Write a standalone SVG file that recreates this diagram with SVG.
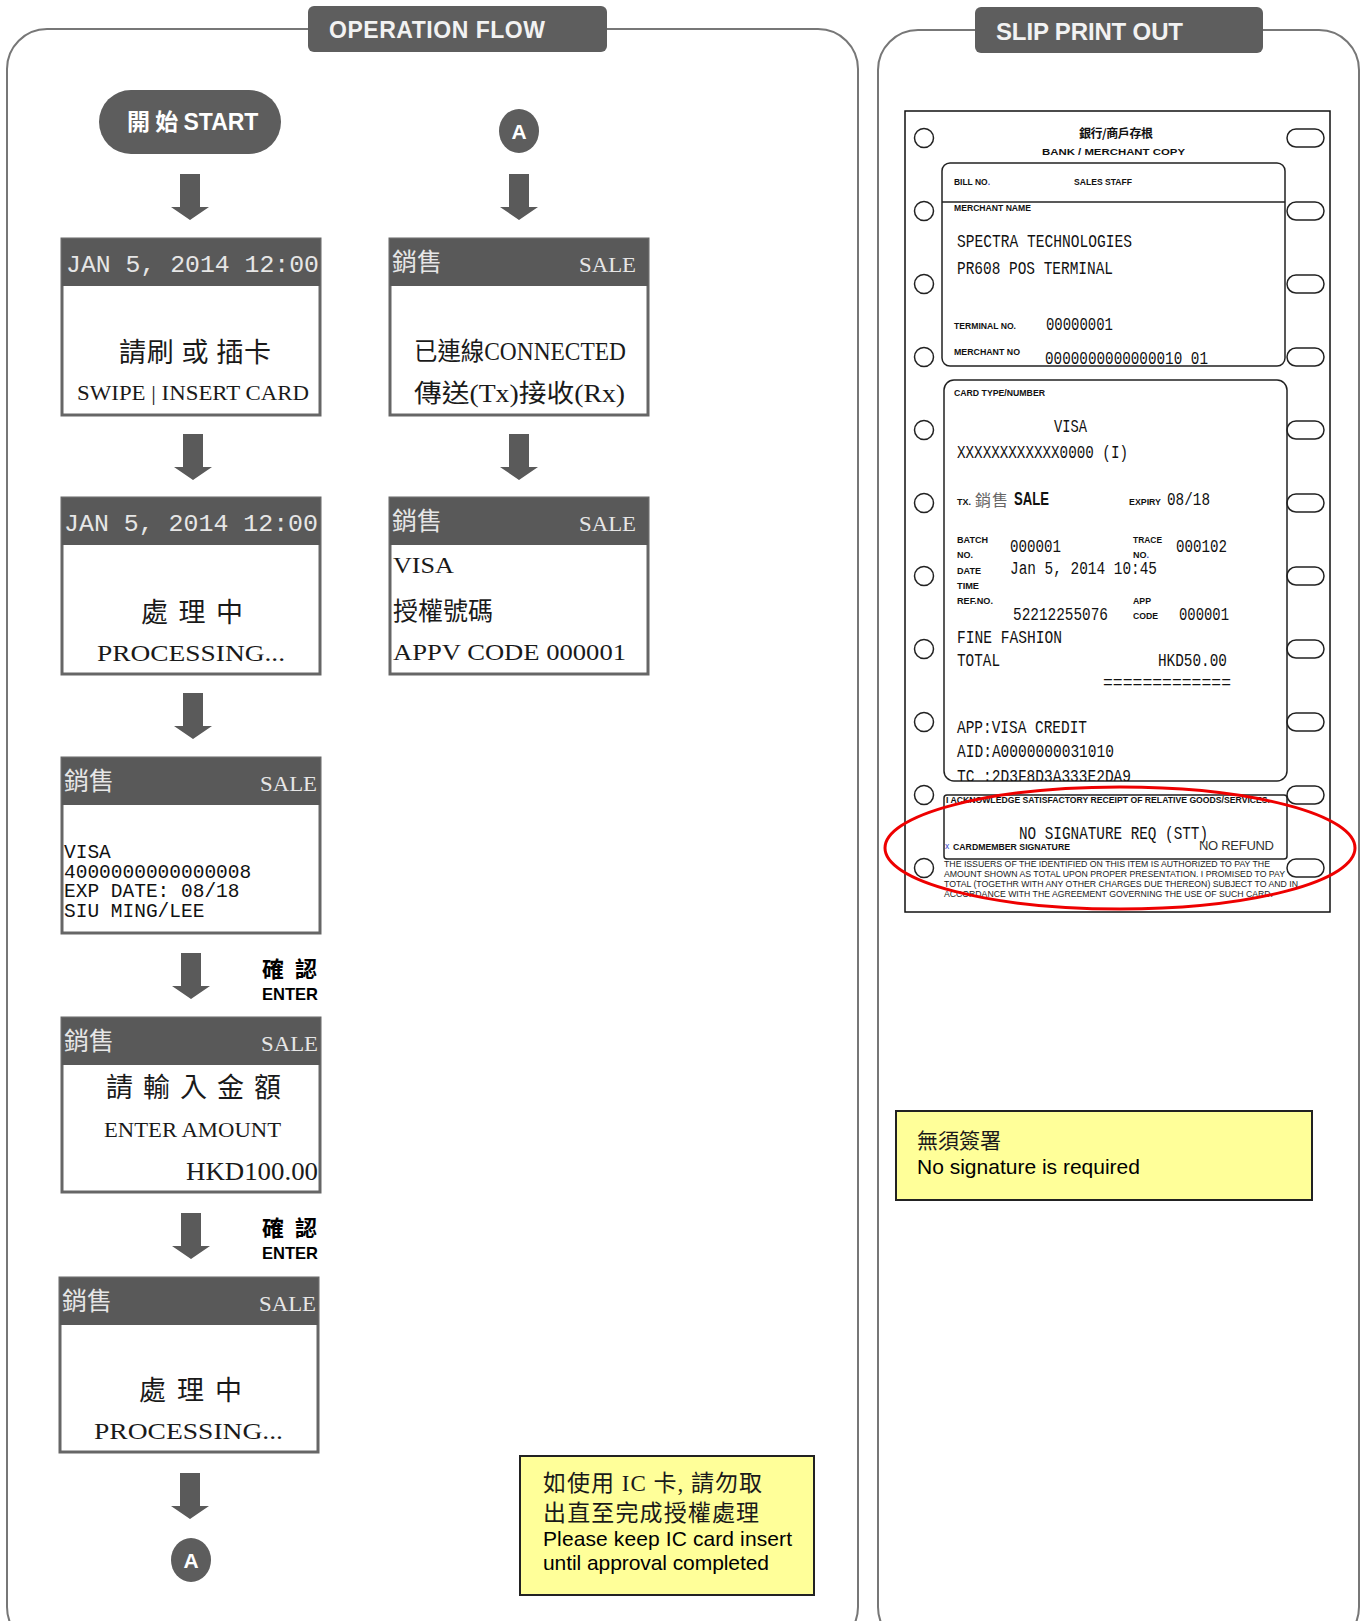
<svg xmlns="http://www.w3.org/2000/svg" xmlns:xlink="http://www.w3.org/1999/xlink" width="1365" height="1621" viewBox="0 0 1365 1621">
<style>
.panel{fill:none;stroke:#777;stroke-width:2}
.tab{fill:#5e5e5e}
.tabtxt{font-family:"Liberation Sans",Arial,sans-serif;font-weight:bold;fill:#f2f2f2}
.scr{fill:#fff;stroke:#666;stroke-width:3}
.hdr{fill:#595959}
.hdate{font-family:"Liberation Mono",monospace;font-size:24px;fill:#e6e6e6}
.hcjk{font-family:"Noto Sans CJK TC",sans-serif;font-size:25px;fill:#e6e6e6}
.hsale{font-family:"Liberation Serif",serif;font-size:22px;fill:#e6e6e6}
.body{font-family:"Liberation Serif","Noto Sans CJK TC",serif;fill:#1a1a1a}
.cjk{font-family:"Noto Sans CJK TC",sans-serif;fill:#1a1a1a}
.mono{font-family:"Liberation Mono",monospace;fill:#111}
.arrow{fill:#5a5a5a}
.enter{font-family:"Liberation Sans","Noto Sans CJK TC",sans-serif;font-weight:bold;fill:#000}
.note{fill:#ffff99;stroke:#222;stroke-width:2}
.sans{font-family:"Liberation Sans",Arial,sans-serif}
.lbl{font-family:"Liberation Sans",Arial,sans-serif;font-weight:bold;font-size:9px;fill:#111}
.slip{fill:#fff;stroke:#111;stroke-width:1.5}
.sbox{fill:none;stroke:#222;stroke-width:1.5}
.hole{fill:#fff;stroke:#222;stroke-width:1.5}
.st{font-family:"Liberation Mono",monospace;font-size:18px;fill:#111}
.disc{font-family:"Liberation Sans",Arial,sans-serif;font-size:9.5px;fill:#222}
</style>
<defs>
<path id="arr" d="M-10,0 H10 V33 H19 L0,46 L-19,33 H-10 Z"/>
<clipPath id="clipB"><rect x="944" y="380" width="343" height="401"/></clipPath>
</defs>

<rect id="bg" x="0" y="0" width="1365" height="1621" fill="#fff"/>

<g id="panel-operation-flow">
<rect class="panel" x="7" y="29" width="851" height="1618" rx="40"/>
<rect class="tab" x="308" y="6" width="299" height="46" rx="6"/>
<text class="tabtxt" x="329" y="38" font-size="23" textLength="216">OPERATION FLOW</text>
</g>

<g id="panel-slip">
<rect class="panel" x="878" y="30" width="481" height="1617" rx="40"/>
<rect class="tab" x="975" y="7" width="288" height="46" rx="6"/>
<text class="tabtxt" x="996" y="40" font-size="24" textLength="187">SLIP PRINT OUT</text>
</g>

<g id="connectors">
<use xlink:href="#arr" href="#arr" class="arrow" x="190" y="174"/>
<use xlink:href="#arr" href="#arr" class="arrow" x="193" y="434"/>
<use xlink:href="#arr" href="#arr" class="arrow" x="193" y="693"/>
<use xlink:href="#arr" href="#arr" class="arrow" x="191" y="953"/>
<use xlink:href="#arr" href="#arr" class="arrow" x="191" y="1213"/>
<use xlink:href="#arr" href="#arr" class="arrow" x="190" y="1473"/>
<use xlink:href="#arr" href="#arr" class="arrow" x="519" y="174"/>
<use xlink:href="#arr" href="#arr" class="arrow" x="519" y="434"/>
</g>

<g id="start">
<rect x="99" y="90" width="182" height="64" rx="32" fill="#5d5d5d"/>
<text x="127" y="130" font-size="23" fill="#fff" font-weight="bold" font-family="Liberation Sans,Noto Sans CJK TC,sans-serif"><tspan font-family="Noto Sans CJK TC,sans-serif">開 始 </tspan><tspan>START</tspan></text>
</g>

<g id="connector-a-top">
<ellipse cx="519" cy="131" rx="20" ry="22" fill="#5d5d5d"/>
<text x="519" y="139" font-size="21" fill="#fff" font-weight="bold" text-anchor="middle" font-family="Liberation Sans,sans-serif">A</text>
</g>

<g id="connector-a-bottom">
<ellipse cx="191" cy="1560" rx="20" ry="22" fill="#5d5d5d"/>
<text x="191" y="1568" font-size="21" fill="#fff" font-weight="bold" text-anchor="middle" font-family="Liberation Sans,sans-serif">A</text>
</g>

<g id="screen-swipe">
<rect class="scr" x="62" y="239" width="258" height="176"/>
<rect class="hdr" x="62" y="239" width="258" height="47"/>
<text class="hdate" x="66" y="272" textLength="253" lengthAdjust="spacingAndGlyphs">JAN 5, 2014 12:00</text>
<text class="cjk" x="195" y="362" font-size="27" text-anchor="middle" textLength="152">請刷 或 插卡</text>
<text class="body" x="77" y="400" font-size="21" textLength="232" lengthAdjust="spacingAndGlyphs">SWIPE | INSERT CARD</text>
</g>

<g id="screen-processing-1">
<rect class="scr" x="62" y="498" width="258" height="176"/>
<rect class="hdr" x="62" y="498" width="258" height="47"/>
<text class="hdate" x="64" y="531" textLength="254" lengthAdjust="spacingAndGlyphs">JAN 5, 2014 12:00</text>
<text class="cjk" x="141" y="622" font-size="27" textLength="102">處 理 中</text>
<text class="body" x="97" y="661" font-size="23" textLength="188" lengthAdjust="spacingAndGlyphs">PROCESSING...</text>
</g>

<g id="screen-card-info">
<rect class="scr" x="62" y="758" width="258" height="175"/>
<rect class="hdr" x="62" y="758" width="258" height="47"/>
<text class="hcjk" x="64" y="790">銷售</text>
<text class="hsale" x="317" y="791" text-anchor="end" textLength="57" lengthAdjust="spacingAndGlyphs">SALE</text>
<text class="mono" x="64" y="858" font-size="19.5">VISA</text>
<text class="mono" x="64" y="878" font-size="19.5">4000000000000008</text>
<text class="mono" x="64" y="897" font-size="19.5">EXP DATE: 08/18</text>
<text class="mono" x="64" y="917" font-size="19.5">SIU MING/LEE</text>
</g>

<g id="enter-label-1">
<text class="enter" x="262" y="977" font-size="22" textLength="55"><tspan font-family="Noto Sans CJK TC,sans-serif">確 認</tspan></text>
<text class="enter" x="262" y="1000" font-size="17" textLength="56" lengthAdjust="spacingAndGlyphs">ENTER</text>
</g>

<g id="screen-amount">
<rect class="scr" x="62" y="1018" width="258" height="174"/>
<rect class="hdr" x="62" y="1018" width="258" height="47"/>
<text class="hcjk" x="64" y="1050">銷售</text>
<text class="hsale" x="318" y="1051" text-anchor="end" textLength="57" lengthAdjust="spacingAndGlyphs">SALE</text>
<text class="cjk" x="106" y="1097" font-size="27" textLength="175">請 輸 入 金 額</text>
<text class="body" x="104" y="1137" font-size="22" textLength="177" lengthAdjust="spacingAndGlyphs">ENTER AMOUNT</text>
<text class="body" x="186" y="1180" font-size="25" textLength="132" lengthAdjust="spacingAndGlyphs">HKD100.00</text>
</g>

<g id="enter-label-2">
<text class="enter" x="262" y="1236" font-size="22" textLength="55"><tspan font-family="Noto Sans CJK TC,sans-serif">確 認</tspan></text>
<text class="enter" x="262" y="1259" font-size="17" textLength="56" lengthAdjust="spacingAndGlyphs">ENTER</text>
</g>

<g id="screen-processing-2">
<rect class="scr" x="60" y="1278" width="258" height="174"/>
<rect class="hdr" x="60" y="1278" width="258" height="47"/>
<text class="hcjk" x="62" y="1310">銷售</text>
<text class="hsale" x="316" y="1311" text-anchor="end" textLength="57" lengthAdjust="spacingAndGlyphs">SALE</text>
<text class="cjk" x="139" y="1400" font-size="27" textLength="103">處 理 中</text>
<text class="body" x="94" y="1439" font-size="23" textLength="189" lengthAdjust="spacingAndGlyphs">PROCESSING...</text>
</g>

<g id="screen-connected">
<rect class="scr" x="390" y="239" width="258" height="176"/>
<rect class="hdr" x="390" y="239" width="258" height="47"/>
<text class="hcjk" x="392" y="271">銷售</text>
<text class="hsale" x="636" y="272" text-anchor="end" textLength="57" lengthAdjust="spacingAndGlyphs">SALE</text>
<text class="body" x="414" y="360" font-size="25" textLength="212" lengthAdjust="spacingAndGlyphs">已連線CONNECTED</text>
<text class="body" x="414" y="402" font-size="25" textLength="211" lengthAdjust="spacingAndGlyphs">傳送(Tx)接收(Rx)</text>
</g>

<g id="screen-approval">
<rect class="scr" x="390" y="498" width="258" height="176"/>
<rect class="hdr" x="390" y="498" width="258" height="47"/>
<text class="hcjk" x="392" y="530">銷售</text>
<text class="hsale" x="636" y="531" text-anchor="end" textLength="57" lengthAdjust="spacingAndGlyphs">SALE</text>
<text class="body" x="393" y="573" font-size="24" textLength="61" lengthAdjust="spacingAndGlyphs">VISA</text>
<text class="cjk" x="393" y="620" font-size="25" textLength="100">授權號碼</text>
<text class="body" x="393" y="660" font-size="24" textLength="233" lengthAdjust="spacingAndGlyphs">APPV CODE 000001</text>
</g>

<g id="note-ic-card">
<rect class="note" x="520" y="1456" width="294" height="139"/>
<text class="body" x="543" y="1491" font-size="23" textLength="219">如使用 IC 卡, 請勿取</text>
<text class="cjk" x="543" y="1521" font-size="23" textLength="216">出直至完成授權處理</text>
<text class="sans" x="543" y="1546" font-size="21" fill="#000" textLength="249">Please keep IC card insert</text>
<text class="sans" x="543" y="1570" font-size="21" fill="#000" textLength="226">until approval completed</text>
</g>

<g id="slip">
<rect class="slip" x="905" y="111" width="425" height="801"/>
<g id="holes-left">
<circle class="hole" cx="924" cy="138" r="9.5"/>
<circle class="hole" cx="924" cy="211" r="9.5"/>
<circle class="hole" cx="924" cy="284" r="9.5"/>
<circle class="hole" cx="924" cy="357" r="9.5"/>
<circle class="hole" cx="924" cy="430" r="9.5"/>
<circle class="hole" cx="924" cy="503" r="9.5"/>
<circle class="hole" cx="924" cy="576" r="9.5"/>
<circle class="hole" cx="924" cy="649" r="9.5"/>
<circle class="hole" cx="924" cy="722" r="9.5"/>
<circle class="hole" cx="924" cy="795" r="9.5"/>
<circle class="hole" cx="924" cy="868" r="9.5"/>
</g>
<g id="holes-right">
<rect class="hole" x="1287" y="129" width="37" height="18" rx="9"/>
<rect class="hole" x="1287" y="202" width="37" height="18" rx="9"/>
<rect class="hole" x="1287" y="275" width="37" height="18" rx="9"/>
<rect class="hole" x="1287" y="348" width="37" height="18" rx="9"/>
<rect class="hole" x="1287" y="421" width="37" height="18" rx="9"/>
<rect class="hole" x="1287" y="494" width="37" height="18" rx="9"/>
<rect class="hole" x="1287" y="567" width="37" height="18" rx="9"/>
<rect class="hole" x="1287" y="640" width="37" height="18" rx="9"/>
<rect class="hole" x="1287" y="713" width="37" height="18" rx="9"/>
<rect class="hole" x="1287" y="786" width="37" height="18" rx="9"/>
<rect class="hole" x="1287" y="859" width="37" height="18" rx="9"/>
</g>
<text x="1116" y="138" font-size="12" font-weight="bold" text-anchor="middle" fill="#111" font-family="Noto Sans CJK TC,sans-serif" textLength="74">銀行/商戶存根</text>
<text class="lbl" x="1042" y="155" font-size="11.5" textLength="143" lengthAdjust="spacingAndGlyphs">BANK / MERCHANT COPY</text>

<g id="slip-merchant">
<rect class="sbox" x="942" y="163" width="343" height="203" rx="8"/>
<line x1="942" y1="202" x2="1285" y2="202" stroke="#222" stroke-width="1.5"/>
<text class="lbl" x="954" y="185" textLength="36" lengthAdjust="spacingAndGlyphs">BILL NO<tspan fill="#3344cc">.</tspan></text>
<text class="lbl" x="1074" y="185" textLength="58" lengthAdjust="spacingAndGlyphs">SALES STAFF</text>
<text class="lbl" x="954" y="211" textLength="77" lengthAdjust="spacingAndGlyphs">MERCHANT NAME</text>
<text class="st" x="957" y="247" textLength="175" lengthAdjust="spacingAndGlyphs">SPECTRA TECHNOLOGIES</text>
<text class="st" x="957" y="274" textLength="156" lengthAdjust="spacingAndGlyphs">PR608 POS TERMINAL</text>
<text class="lbl" x="954" y="329" textLength="62" lengthAdjust="spacingAndGlyphs">TERMINAL NO.</text>
<text class="st" x="1046" y="330" textLength="67" lengthAdjust="spacingAndGlyphs">00000001</text>
<text class="lbl" x="954" y="355" textLength="66" lengthAdjust="spacingAndGlyphs">MERCHANT NO</text>
<text class="st" x="1045" y="364" textLength="163" lengthAdjust="spacingAndGlyphs">0000000000000010 01</text>
</g>

<g id="slip-card">
<rect class="sbox" x="944" y="380" width="343" height="401" rx="10"/>
<text class="lbl" x="954" y="396" textLength="91" lengthAdjust="spacingAndGlyphs">CARD TYPE/NUMBER</text>
<text class="st" x="1054" y="432" textLength="33" lengthAdjust="spacingAndGlyphs">VISA</text>
<text class="st" x="957" y="458" textLength="171" lengthAdjust="spacingAndGlyphs">XXXXXXXXXXXX0000 (I)</text>
<text class="lbl" x="957" y="505" textLength="14" lengthAdjust="spacingAndGlyphs">TX.</text>
<text x="975" y="506" font-size="16" fill="#666" font-family="Noto Sans CJK TC,sans-serif" textLength="33">銷售</text>
<text x="1014" y="505" font-size="18" font-weight="bold" fill="#111" font-family="Liberation Sans,sans-serif" textLength="35" lengthAdjust="spacingAndGlyphs">SALE</text>
<text class="lbl" x="1129" y="505" textLength="32" lengthAdjust="spacingAndGlyphs">EXPIRY</text>
<text class="st" x="1167" y="505" textLength="43" lengthAdjust="spacingAndGlyphs">08/18</text>
<text class="lbl" x="957" y="543" textLength="31" lengthAdjust="spacingAndGlyphs">BATCH</text>
<text class="lbl" x="957" y="558" textLength="16" lengthAdjust="spacingAndGlyphs">NO.</text>
<text class="st" x="1010" y="552" textLength="51" lengthAdjust="spacingAndGlyphs">000001</text>
<text class="lbl" x="1133" y="543" textLength="29" lengthAdjust="spacingAndGlyphs">TRACE</text>
<text class="lbl" x="1133" y="558" textLength="16" lengthAdjust="spacingAndGlyphs">NO<tspan fill="#3344cc">.</tspan></text>
<text class="st" x="1176" y="552" textLength="51" lengthAdjust="spacingAndGlyphs">000102</text>
<text class="lbl" x="957" y="574" textLength="24" lengthAdjust="spacingAndGlyphs">DATE</text>
<text class="lbl" x="957" y="589" textLength="22" lengthAdjust="spacingAndGlyphs">TIME</text>
<text class="st" x="1010" y="574" textLength="147" lengthAdjust="spacingAndGlyphs">Jan 5, 2014 10:45</text>
<text class="lbl" x="957" y="604" textLength="36" lengthAdjust="spacingAndGlyphs">REF.NO.</text>
<text class="lbl" x="1133" y="604" textLength="18" lengthAdjust="spacingAndGlyphs">APP</text>
<text class="lbl" x="1133" y="619" textLength="25" lengthAdjust="spacingAndGlyphs">CODE</text>
<text class="st" x="1013" y="620" textLength="95" lengthAdjust="spacingAndGlyphs">52212255076</text>
<text class="st" x="1179" y="620" textLength="50" lengthAdjust="spacingAndGlyphs">000001</text>
<text class="st" x="957" y="643" textLength="105" lengthAdjust="spacingAndGlyphs">FINE FASHION</text>
<text class="st" x="957" y="666" textLength="43" lengthAdjust="spacingAndGlyphs">TOTAL</text>
<text class="st" x="1158" y="666" textLength="69" lengthAdjust="spacingAndGlyphs">HKD50.00</text>
<text class="st" x="1103" y="688" textLength="128" lengthAdjust="spacingAndGlyphs">=============</text>
<text class="st" x="957" y="733" textLength="130" lengthAdjust="spacingAndGlyphs">APP:VISA CREDIT</text>
<text class="st" x="957" y="757" textLength="157" lengthAdjust="spacingAndGlyphs">AID:A0000000031010</text>
<text class="st" x="957" y="782" textLength="174" lengthAdjust="spacingAndGlyphs" clip-path="url(#clipB)">TC :2D3F8D3A333E2DA9</text>
</g>

<g id="slip-signature">
<rect class="sbox" x="944" y="795" width="343" height="64" rx="3"/>
<text class="lbl" x="946" y="803" font-size="8.5" textLength="324" lengthAdjust="spacingAndGlyphs">I ACKNOWLEDGE SATISFACTORY RECEIPT OF RELATIVE GOODS/SERVICES.</text>
<text class="st" x="1019" y="839" textLength="189" lengthAdjust="spacingAndGlyphs">NO SIGNATURE REQ (STT)</text>
<text x="945" y="849" font-size="8.5" fill="#3344cc" font-family="Liberation Sans,sans-serif">x</text>
<text class="lbl" x="953" y="850" textLength="117" lengthAdjust="spacingAndGlyphs">CARDMEMBER SIGNATURE</text>
<text class="sans" x="1199" y="850" font-size="13" fill="#333" textLength="75">NO REFUND</text>
<text class="disc" x="944" y="867" textLength="326" lengthAdjust="spacingAndGlyphs">THE ISSUERS OF THE IDENTIFIED ON THIS ITEM IS AUTHORIZED TO PAY THE</text>
<text class="disc" x="944" y="877" textLength="341" lengthAdjust="spacingAndGlyphs">AMOUNT SHOWN AS TOTAL UPON PROPER PRESENTATION. I PROMISED TO PAY</text>
<text class="disc" x="944" y="887" textLength="354" lengthAdjust="spacingAndGlyphs">TOTAL (TOGETHR WITH ANY OTHER CHARGES DUE THEREON) SUBJECT TO AND IN</text>
<text class="disc" x="944" y="897" textLength="329" lengthAdjust="spacingAndGlyphs">ACCORDANCE WITH THE AGREEMENT GOVERNING THE USE OF SUCH CARD.</text>
</g>

<ellipse id="highlight" cx="1120" cy="848" rx="235" ry="61" fill="none" stroke="#ee0000" stroke-width="3"/>
</g>

<g id="note-no-signature">
<rect class="note" x="896" y="1111" width="416" height="89"/>
<text class="cjk" x="917" y="1148" font-size="21" fill="#444">無須簽署</text>
<text class="sans" x="917" y="1174" font-size="21" fill="#000">No signature is required</text>
</g>
</svg>
